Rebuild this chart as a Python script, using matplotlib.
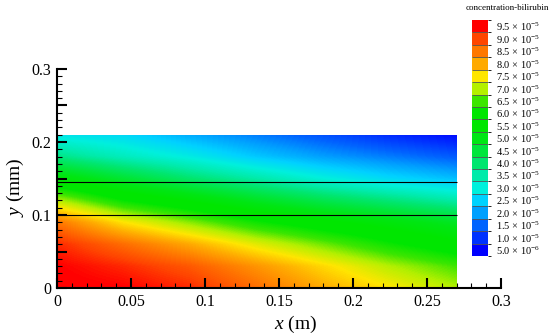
import matplotlib
matplotlib.use("Agg")
import matplotlib.pyplot as plt
import matplotlib.colors as mcolors
import matplotlib.ticker as mticker
from matplotlib.patches import Rectangle
import numpy as np

plt.rcParams['font.family'] = ['Liberation Serif', 'DejaVu Serif']
plt.rcParams['mathtext.fontset'] = 'custom'
plt.rcParams['mathtext.rm'] = 'Liberation Serif'
plt.rcParams['mathtext.it'] = 'Liberation Serif:italic'

# grid positions (x in m, y in mm) and concentration (x1e-5)
x_pts = [0, 0.045, 0.09, 0.135, 0.18, 0.225, 0.27]
y_pts = [0, 0.03, 0.06, 0.09, 0.12, 0.15, 0.18, 0.21]
conc = [  # rows = y, cols = x
    [9.6, 9.5, 9.2, 8.6, 8.0, 7.5, 7.0],
    [9.5, 9.2, 8.8, 8.2, 7.6, 7.0, 6.5],
    [9.2, 8.6, 8.0, 7.3, 6.7, 6.1, 5.6],
    [8.5, 7.5, 6.8, 6.1, 5.6, 5.2, 4.8],
    [7.0, 6.0, 5.4, 4.8, 4.3, 3.9, 3.5],
    [5.3, 4.6, 4.0, 3.5, 3.0, 2.6, 2.3],
    [3.8, 3.3, 2.9, 2.4, 2.0, 1.7, 1.4],
    [2.8, 2.6, 2.1, 1.7, 1.3, 0.9, 0.6],
]
line_y = [0.1, 0.145]

# contour levels and their colours (tecplot style legend)
levels = [0.5, 1.0, 1.5, 2.0, 2.5, 3.0, 3.5, 4.0, 4.5, 5.0,
          5.5, 6.0, 6.5, 7.0, 7.5, 8.0, 8.5, 9.0, 9.5]
level_colors = ['#0000ff', '#0032ff', '#0064ff', '#00a0ff', '#00d2ff',
                '#00f0dc', '#00ebaa', '#00e66e', '#00e63c', '#00e614',
                '#00e600', '#00e600', '#3ce600', '#b4f000', '#ffe600',
                '#ffaa00', '#ff7800', '#ff4600', '#ff0000']

cmap = mcolors.LinearSegmentedColormap.from_list(
    'tec', list(zip(np.linspace(0, 1, len(level_colors)), level_colors)))

fig = plt.figure(figsize=(5.5, 3.34), dpi=100)
ax = fig.add_axes([57/550, 46/334, 444/550, 219/334])

dx = x_pts[1] - x_pts[0]
dy = y_pts[1] - y_pts[0]
C = np.array(conc) * 1e-5
im = ax.imshow(C, origin='lower', cmap=cmap, interpolation='bilinear',
               vmin=levels[0]*1e-5, vmax=levels[-1]*1e-5, aspect='auto',
               extent=[x_pts[0]-dx/2, x_pts[-1]+dx/2, y_pts[0]-dy/2, y_pts[-1]+dy/2],
               zorder=1)
im.set_clip_path(Rectangle((x_pts[0], y_pts[0]), x_pts[-1]-x_pts[0],
                           y_pts[-1]-y_pts[0], transform=ax.transData))
ax.hlines(line_y, 0, x_pts[-1], colors='black', lw=0.8, zorder=2)

ax.set_xlim(0, 0.3)
ax.set_ylim(0, 0.3)
for s in ['top', 'right']:
    ax.spines[s].set_visible(False)
for s in ['left', 'bottom']:
    ax.spines[s].set_linewidth(1.5)
    ax.spines[s].set_zorder(3)

ax.xaxis.set_major_locator(mticker.MultipleLocator(0.05))
ax.xaxis.set_minor_locator(mticker.MultipleLocator(0.01))
ax.yaxis.set_major_locator(mticker.MultipleLocator(0.05))
ax.yaxis.set_minor_locator(mticker.MultipleLocator(0.01))
ax.xaxis.set_major_formatter(mticker.FuncFormatter(lambda v, p: '%g' % round(v, 3)))
ax.yaxis.set_major_formatter(mticker.FuncFormatter(
    lambda v, p: '%g' % round(v, 3) if abs(v*10 - round(v*10)) < 1e-6 else ''))
ax.tick_params(which='major', direction='in', length=7, width=1.5, labelsize=11.5)
ax.tick_params(which='minor', direction='in', length=3.5, width=0.8)
ax.tick_params(axis='x', pad=4)
ax.tick_params(axis='y', pad=4)

ax.set_xlabel('$x$ (m)', fontsize=14)
ax.set_ylabel('$y$ (mm)', fontsize=14)
ax.xaxis.set_label_coords(0.538, -0.12)
ax.yaxis.set_label_coords(-0.07, 0.46)

# legend / colour bar
cax = fig.add_axes([472/550, 78/334, 16/550, 236/334])
bounds = [l - 0.25 for l in levels] + [levels[-1] + 0.25]
cb = fig.colorbar(plt.cm.ScalarMappable(
    norm=mcolors.BoundaryNorm(bounds, len(levels)),
    cmap=mcolors.ListedColormap(level_colors)),
    cax=cax, ticks=levels, drawedges=True)
cb.outline.set_linewidth(0)
cb.dividers.set_color('#555555')
cb.dividers.set_linewidth(0.6)
cb.ax.set_yticklabels(['5.0 × 10$^{-6}$' if l < 1 else '%.1f × 10$^{-5}$' % l
                       for l in levels])
cb.ax.tick_params(length=0, pad=6, labelsize=7.5)
fig.text(507/550, 1 - 8/334, 'concentration-bilirubin', fontsize=6.5,
         ha='center', va='center')

plt.savefig('out.png')
